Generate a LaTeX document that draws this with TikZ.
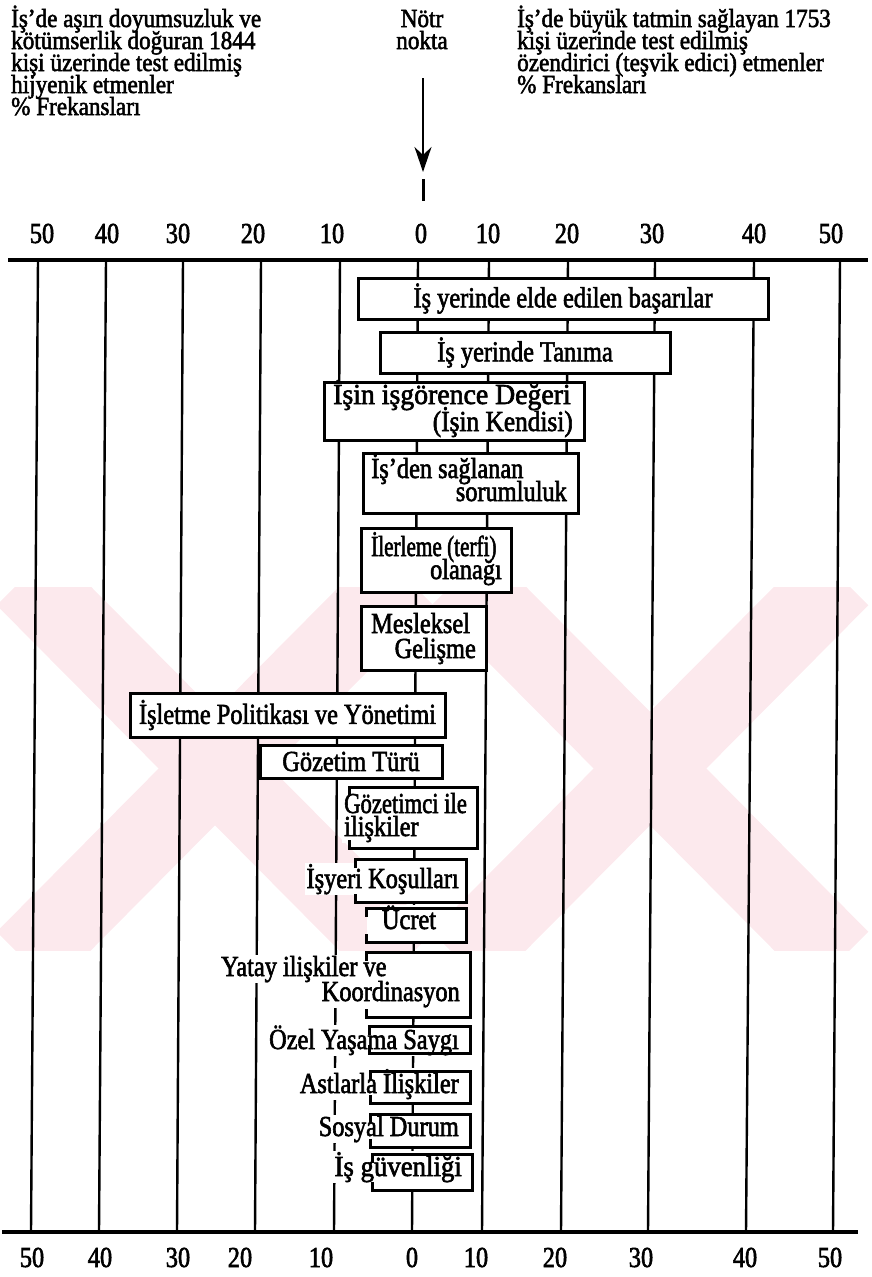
\documentclass[tikz,border=0pt]{standalone}
\usepackage{fontspec}
\usepackage{graphicx}
\newfontfamily\chartfont[FakeStretch=0.84,FakeBold=2]{Liberation Serif}
\newfontfamily\headfont[FakeStretch=0.89,FakeBold=2]{Liberation Serif}
\newcommand\hsq[2]{\scalebox{#1}[1]{#2}}
\newcommand\chartsize{\fontsize{29}{23}\selectfont\lineskiplimit=-40pt\relax}
\newcommand\headsize{\fontsize{26}{22}\selectfont\lineskiplimit=-40pt\relax}
\definecolor{tint}{RGB}{252,233,237}
\usetikzlibrary{calc,arrows.meta}

\begin{document}
\begin{tikzpicture}[x=1pt,y=-1pt,
  every node/.style={font=\chartfont\chartsize, inner sep=0pt},
  grid/.style={line width=2.4pt},
  axis/.style={line width=3.8pt},
  box/.style={draw, line width=3pt, fill=white, inner sep=0pt},
  openbox/.style={fill=white, inner sep=0pt},
  bracket/.style={line width=3pt},
  lbl/.style={fill=white, inner xsep=2pt, inner ysep=1pt},
  head/.style={align=left, anchor=base west, font=\headfont\headsize},
  num/.style={anchor=base},
  band/.style={draw=tint, line width=80pt},
]
\useasboundingbox (0,0) rectangle (872,1277);

% ---- pale background crosses
\begin{scope}
  \clip (0,587) rectangle (872,950);
  \foreach \c in {215,650}{
    \draw[band] (\c-190,577) -- (\c+190,960);
    \draw[band] (\c+190,577) -- (\c-190,960);
  }
\end{scope}

% ---- vertical scale lines (top x / bottom x)
\foreach \xt/\xb [count=\i] in {38/31,106/99,183/177,261/255,340/334,418/412,489/482,568/561,655/648,754/746,840/833}{
  \coordinate (gt\i) at (\xt,260);
  \coordinate (gb\i) at (\xb,1232);
  \draw[grid] (gt\i) -- (gb\i);
}

% ---- horizontal axes
\coordinate (axtl) at (8,260);  \coordinate (axtr) at (868,260);
\coordinate (axbl) at (2,1232); \coordinate (axbr) at (858,1232);
\draw[axis] (axtl) -- (axtr);
\draw[axis] (axbl) -- (axbr);

% ---- scale numbers
\foreach \x/\t [count=\i] in {42/50,107/40,178/30,253/20,332/10,421/0,488/10,567/20,652/30,754/40,831/50}{
  \node[num] (tn\i) at (\x,243) {\t};
}
\foreach \x/\t [count=\i] in {32/50,100/40,178/30,240/20,321/10,412/0,476/10,555/20,641/30,745/40,830/50}{
  \node[num] (bn\i) at (\x,1267) {\t};
}

% ---- headings (anchored on the baseline of their last line)
\node[head] (hleft) at (11,115) {İş’de aşırı doyumsuzluk ve\\kötümserlik doğuran 1844\\kişi üzerinde test edilmiş\\hijyenik etmenler\\\% Frekansları};
\node[head] (hright) at (517,93) {İş’de büyük tatmin sağlayan 1753\\kişi üzerinde test edilmiş\\özendirici (teşvik edici) etmenler\\\% Frekansları};
\node[head, align=center, anchor=base] (notr) at (422,49) {Nötr\\nokta};

% ---- neutral point arrow
\coordinate (arrtop) at (423,78);
\coordinate (arrtip) at (423,172);
\draw[line width=2pt, -{Stealth[length=25pt, width=17pt, inset=8pt]}] (arrtop) -- (arrtip);
\coordinate (tk1) at (423,179);
\coordinate (tk2) at (423,201);
\draw[line width=3pt] (tk1) -- (tk2);

% ---- motivators (closed boxes)
\node[box, minimum width=410pt, minimum height=41pt] (f1) at (563,298.5) {İş yerinde elde edilen başarılar};
\node[box, minimum width=290pt, minimum height=41pt] (f2) at (525,352.5) {İş yerinde Tanıma};
\node[box, minimum width=260pt, minimum height=58pt] (f3) at (454,411) {};
\node[anchor=base west] (f3a) at (333,404) {\hsq{1.14}{İşin işgörence Değeri}};
\node[anchor=base east] (f3b) at (573,431) {\hsq{1.04}{(İşin Kendisi)}};
\node[box, minimum width=215pt, minimum height=60pt] (f4) at (470.5,483) {};
\node[anchor=base west] (f4a) at (371,478) {İş’den sağlanan};
\node[anchor=base east] (f4b) at (567,501) {sorumluluk};
\node[box, minimum width=150pt, minimum height=64pt] (f5) at (436,560) {};
\node[anchor=base west] (f5a) at (371,556) {\hsq{0.87}{İlerleme (terfi)}};
\node[anchor=base east] (f5b) at (502,579) {olanağı};
\node[box, minimum width=125pt, minimum height=64pt] (f6) at (423.5,638) {};
\node[anchor=base west] (f6a) at (371,633) {Mesleksel};
\node[anchor=base east] (f6b) at (476,658) {Gelişme};

% ---- hygiene factors
\node[box, minimum width=315pt, minimum height=44pt] (f7) at (287.5,715) {İşletme Politikası ve Yönetimi};
\node[box, minimum width=182pt, minimum height=33pt] (f8) at (351,761.5) {Gözetim Türü};

\node[openbox, minimum width=127pt, minimum height=60pt] (f9) at (413.5,818) {};
\node[lbl, anchor=base west] (f9a) at (342,813) {\hsq{0.93}{Gözetimci ile}};
\node[lbl, anchor=base west] (f9b) at (342,836) {ilişkiler};

\node[openbox, minimum width=110pt, minimum height=42pt] (f10) at (411,881) {};
\node[lbl, anchor=base east] (f10a) at (461,888) {İşyeri Koşulları};

\node[openbox, minimum width=99pt, minimum height=33pt] (f11) at (416.5,925.5) {};
\node[lbl, anchor=base] (f11a) at (409,929) {Ücret};

\node[openbox, minimum width=103pt, minimum height=64pt] (f12) at (418.5,985) {};
\node[lbl, anchor=base west] (f12a) at (219,976) {Yatay ilişkiler ve};
\node[lbl, anchor=base east] (f12b) at (462,1001) {Koordinasyon};

\node[openbox, minimum width=100pt, minimum height=26pt] (f13) at (420,1040) {};
\node[lbl, anchor=base east] (f13a) at (461,1049) {Özel Yaşama Saygı};

\node[openbox, minimum width=99pt, minimum height=31pt] (f14) at (420.5,1087.5) {};
\node[lbl, anchor=base east] (f14a) at (461,1093) {Astlarla İlişkiler};

\node[openbox, minimum width=99pt, minimum height=32pt] (f15) at (420.5,1131) {};
\node[lbl, anchor=base east] (f15a) at (461,1136) {Sosyal Durum};

\node[openbox, minimum width=99pt, minimum height=35pt] (f16) at (422.5,1172.5) {};
\node[lbl, anchor=base east] (f16a) at (464,1176) {\hsq{1.1}{İş güvenliği}};

% bracket-style outlines: full top, right and bottom edges, short left ticks
\foreach \b in {f9,f10,f11,f12,f13,f14,f15,f16}{
  \draw[bracket] ($(\b.north west)+(0,8)$) -- (\b.north west) -- (\b.north east)
                 -- (\b.south east) -- (\b.south west) -- ++(0,-8);
}
\end{tikzpicture}
\end{document}
